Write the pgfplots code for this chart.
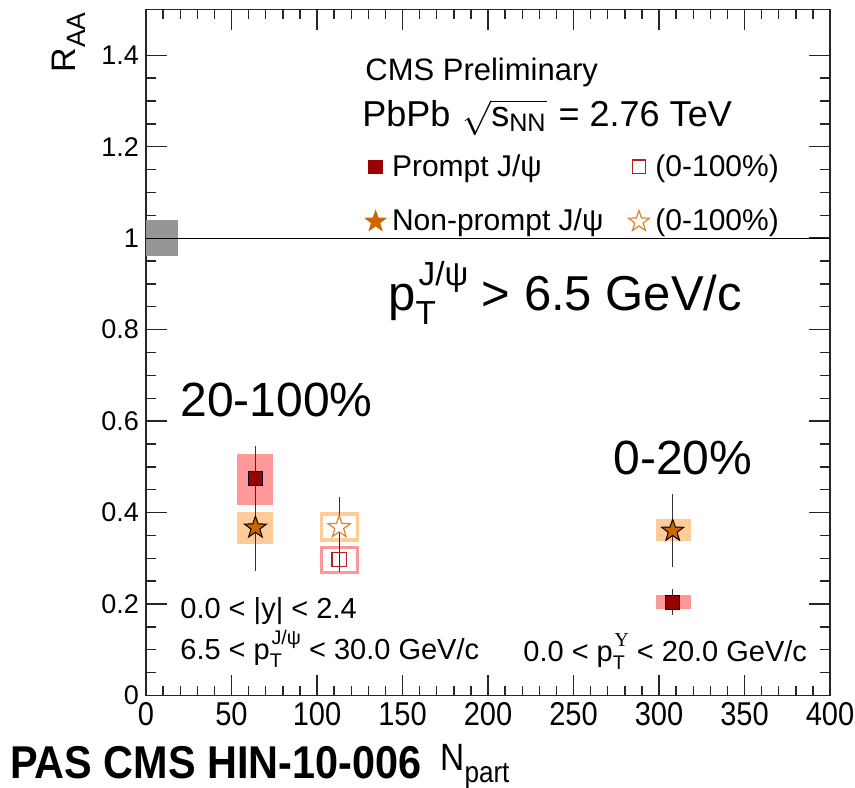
\documentclass[border=0pt]{standalone}
\usepackage{fontspec}
\setmainfont{Liberation Sans}
\newfontfamily\narrowfont[FakeStretch=0.88]{Liberation Sans}
\newfontfamily\pasfont[FakeStretch=0.9]{Liberation Sans}
\newfontfamily\upsfont{Liberation Serif}
\usepackage{amsmath}
\usepackage{graphicx}
\usepackage{pgfplots}
\pgfplotsset{compat=1.18}

\definecolor{pr}{RGB}{153,0,0}
\definecolor{prbox}{RGB}{255,153,153}
\definecolor{np}{RGB}{204,102,0}
\definecolor{npbox}{RGB}{255,204,153}
\definecolor{propen}{RGB}{180,30,30}
\definecolor{npopen}{RGB}{225,130,40}
\definecolor{glob}{RGB}{150,150,150}

\pgfdeclareplotmark{fstar}{%
  \pgfpathmoveto{\pgfpointpolar{90}{\pgfplotmarksize}}%
  \pgfpathlineto{\pgfpointpolar{126}{0.40\pgfplotmarksize}}%
  \pgfpathlineto{\pgfpointpolar{162}{\pgfplotmarksize}}%
  \pgfpathlineto{\pgfpointpolar{198}{0.40\pgfplotmarksize}}%
  \pgfpathlineto{\pgfpointpolar{234}{\pgfplotmarksize}}%
  \pgfpathlineto{\pgfpointpolar{270}{0.40\pgfplotmarksize}}%
  \pgfpathlineto{\pgfpointpolar{306}{\pgfplotmarksize}}%
  \pgfpathlineto{\pgfpointpolar{342}{0.40\pgfplotmarksize}}%
  \pgfpathlineto{\pgfpointpolar{18}{\pgfplotmarksize}}%
  \pgfpathlineto{\pgfpointpolar{54}{0.40\pgfplotmarksize}}%
  \pgfpathclose
  \pgfusepathqfillstroke}

% p_T with stacked sub/superscript
\newcommand\pTsup[1]{p\rlap{\raisebox{-0.28em}{\scalebox{0.68}{T}}}\hspace{0.06em}\raisebox{0.52em}{\scalebox{0.68}{#1}}}

\begin{document}
\begin{tikzpicture}
\useasboundingbox (-73pt,-45.75pt) rectangle (354.5pt,347.75pt);
\begin{axis}[
  at={(0pt,0pt)}, anchor=south west,
  scale only axis, width=342pt, height=343pt,
  xmin=0, xmax=400, ymin=0, ymax=1.5,
  xtick={0,50,100,150,200,250,300,350,400},
  ytick={0,0.2,0.4,0.6,0.8,1,1.2,1.4},
  minor x tick num=4, minor y tick num=3,
  tick align=inside, xtick pos=both, ytick pos=both,
  major tick length=10.5pt, minor tick length=5pt,
  axis line style={line width=0.7pt, black!85},
  every tick/.style={black!85, line width=0.7pt},
  /pgf/number format/assume math mode=true,
  xticklabel style={font=\narrowfont\fontsize{16.5}{16.5}\selectfont},
  yticklabel style={font=\fontsize{13.5}{13.5}\selectfont},
  legend columns=2, legend cell align=left,
  legend style={draw=none, fill=none, at={(0.311,0.798)}, anchor=north west,
    font=\fontsize{15}{15}\selectfont, nodes={inner sep=1pt},
    row sep=13pt,
    /tikz/every odd column/.append style={column sep=2pt},
    /tikz/every even column/.append style={column sep=11.5pt}},
]
% global uncertainty box at 1
\addplot[fill=glob, draw=none, forget plot] coordinates {(0,0.961) (19,0.961) (19,1.040) (0,1.040)} -- cycle;
\addplot[black, line width=0.6pt, forget plot] coordinates {(0,1) (400,1)};

% systematic boxes (filled)
\addplot[fill=prbox, draw=none, forget plot] coordinates {(53.5,0.417) (74.5,0.417) (74.5,0.529) (53.5,0.529)} -- cycle;
\addplot[fill=npbox, draw=none, forget plot] coordinates {(53.5,0.332) (74.5,0.332) (74.5,0.402) (53.5,0.402)} -- cycle;
\addplot[fill=npbox, draw=none, forget plot] coordinates {(298.5,0.337) (318.5,0.337) (318.5,0.386) (298.5,0.386)} -- cycle;
\addplot[fill=prbox, draw=none, forget plot] coordinates {(298.5,0.189) (318.5,0.189) (318.5,0.220) (298.5,0.220)} -- cycle;
% systematic boxes (open, 0-100%)
\addplot[draw=npbox, line width=1.6pt, forget plot] coordinates {(102.5,0.340) (123.5,0.340) (123.5,0.397) (102.5,0.397)} -- cycle;
\addplot[draw=prbox, line width=1.6pt, forget plot] coordinates {(102.5,0.269) (123.5,0.269) (123.5,0.324) (102.5,0.324)} -- cycle;

% statistical error bars
\addplot[draw=none, mark=none, forget plot, error bars/.cd, y dir=both, y explicit, error mark=none,
  error bar style={draw=black!80, line width=0.6pt}] coordinates {
  (64,0.474) +- (0,0.072)
  (64,0.367) +- (0,0.094)
  (113,0.297) +- (0,0.026)
  (113,0.368) +- (0,0.065)
  (308,0.360) +- (0,0.080)
  (308,0.204) +- (0,0.029)
};

% markers
\addplot[only marks, mark=square*, mark size=3.6pt, mark options={fill=pr, draw=black, line width=0.5pt}, forget plot]
  coordinates {(64,0.474) (308,0.204)};
\addplot[only marks, mark=fstar, mark size=5.8pt, mark options={fill=np, draw=black, line width=0.5pt}, forget plot]
  coordinates {(64,0.367) (308,0.360)};
\addplot[only marks, mark=square, mark size=3.6pt, mark options={draw=propen, line width=0.6pt}, forget plot]
  coordinates {(113,0.297)};
\addplot[only marks, mark=fstar, mark size=5.8pt, mark options={fill=white, draw=npopen, line width=0.6pt}, forget plot]
  coordinates {(113,0.368)};

% legend
\addlegendimage{legend image code/.code={\draw[only marks, mark=square*, mark size=3.4pt, mark options={fill=pr, draw=pr}] plot coordinates {(0pt,0pt)};}}
\addlegendentry{Prompt J/ψ}
\addlegendimage{legend image code/.code={\draw[only marks, mark=square, mark size=3.4pt, mark options={draw=propen, line width=0.6pt}] plot coordinates {(0pt,0pt)};}}
\addlegendentry{(0-100\%)}
\addlegendimage{legend image code/.code={\draw[only marks, mark=fstar, mark size=5.5pt, mark options={fill=np, draw=np}] plot coordinates {(0pt,0pt)};}}
\addlegendentry{Non-prompt J/ψ}
\addlegendimage{legend image code/.code={\draw[only marks, mark=fstar, mark size=5.5pt, mark options={fill=white, draw=npopen, line width=0.6pt}] plot coordinates {(0pt,0pt)};}}
\addlegendentry{(0-100\%)}
\end{axis}

% texts
\node[anchor=base west, font=\fontsize{15.5}{15.5}\selectfont, inner sep=0pt] at (109.5pt,307.25pt) {CMS Preliminary};
\node[anchor=base west, font=\fontsize{18}{18}\selectfont, inner sep=0pt] at (108pt,284.5pt) {PbPb\,\,$\sqrt{\text{s}_{\text{NN}}}$\,\,= 2.76 TeV};
\node[anchor=base west, font=\fontsize{24.5}{24.5}\selectfont, inner sep=0pt] at (121pt,192.25pt) {\pTsup{J/ψ} {>} 6.5 GeV/c};
\node[anchor=base west, font=\fontsize{24}{24}\selectfont, inner sep=0pt] at (17pt,139.25pt) {20-100\%};
\node[anchor=base west, font=\fontsize{24}{24}\selectfont, inner sep=0pt] at (233.5pt,110.75pt) {0-20\%};
\node[anchor=base west, font=\fontsize{14.5}{14.5}\selectfont, inner sep=0pt] at (17pt,38.75pt) {0.0 {<} |y| {<} 2.4};
\node[anchor=base west, font=\fontsize{14.5}{14.5}\selectfont, inner sep=0pt] at (17pt,18pt) {6.5 {<} \pTsup{J/ψ} {<} 30.0 GeV/c};
\node[anchor=base west, font=\fontsize{14.5}{14.5}\selectfont, inner sep=0pt] at (188.5pt,17pt) {0.0 {<} \pTsup{\upsfont Υ} {<} 20.0 GeV/c};
\node[anchor=base west, font=\pasfont\bfseries\fontsize{23}{23}\selectfont, inner sep=0pt] at (-68pt,-41.25pt) {PAS CMS HIN-10-006};
\node[anchor=base west, font=\narrowfont\fontsize{19}{19}\selectfont, inner sep=0pt] at (147pt,-37.5pt) {N\raisebox{-0.32em}{\scalebox{0.78}{part}}};
\node[rotate=90, anchor=base east, font=\fontsize{17}{17}\selectfont, inner sep=0pt] at (-35.5pt,341.75pt) {R\raisebox{-0.3em}{\scalebox{0.78}{AA}}};
\end{tikzpicture}
\end{document}
